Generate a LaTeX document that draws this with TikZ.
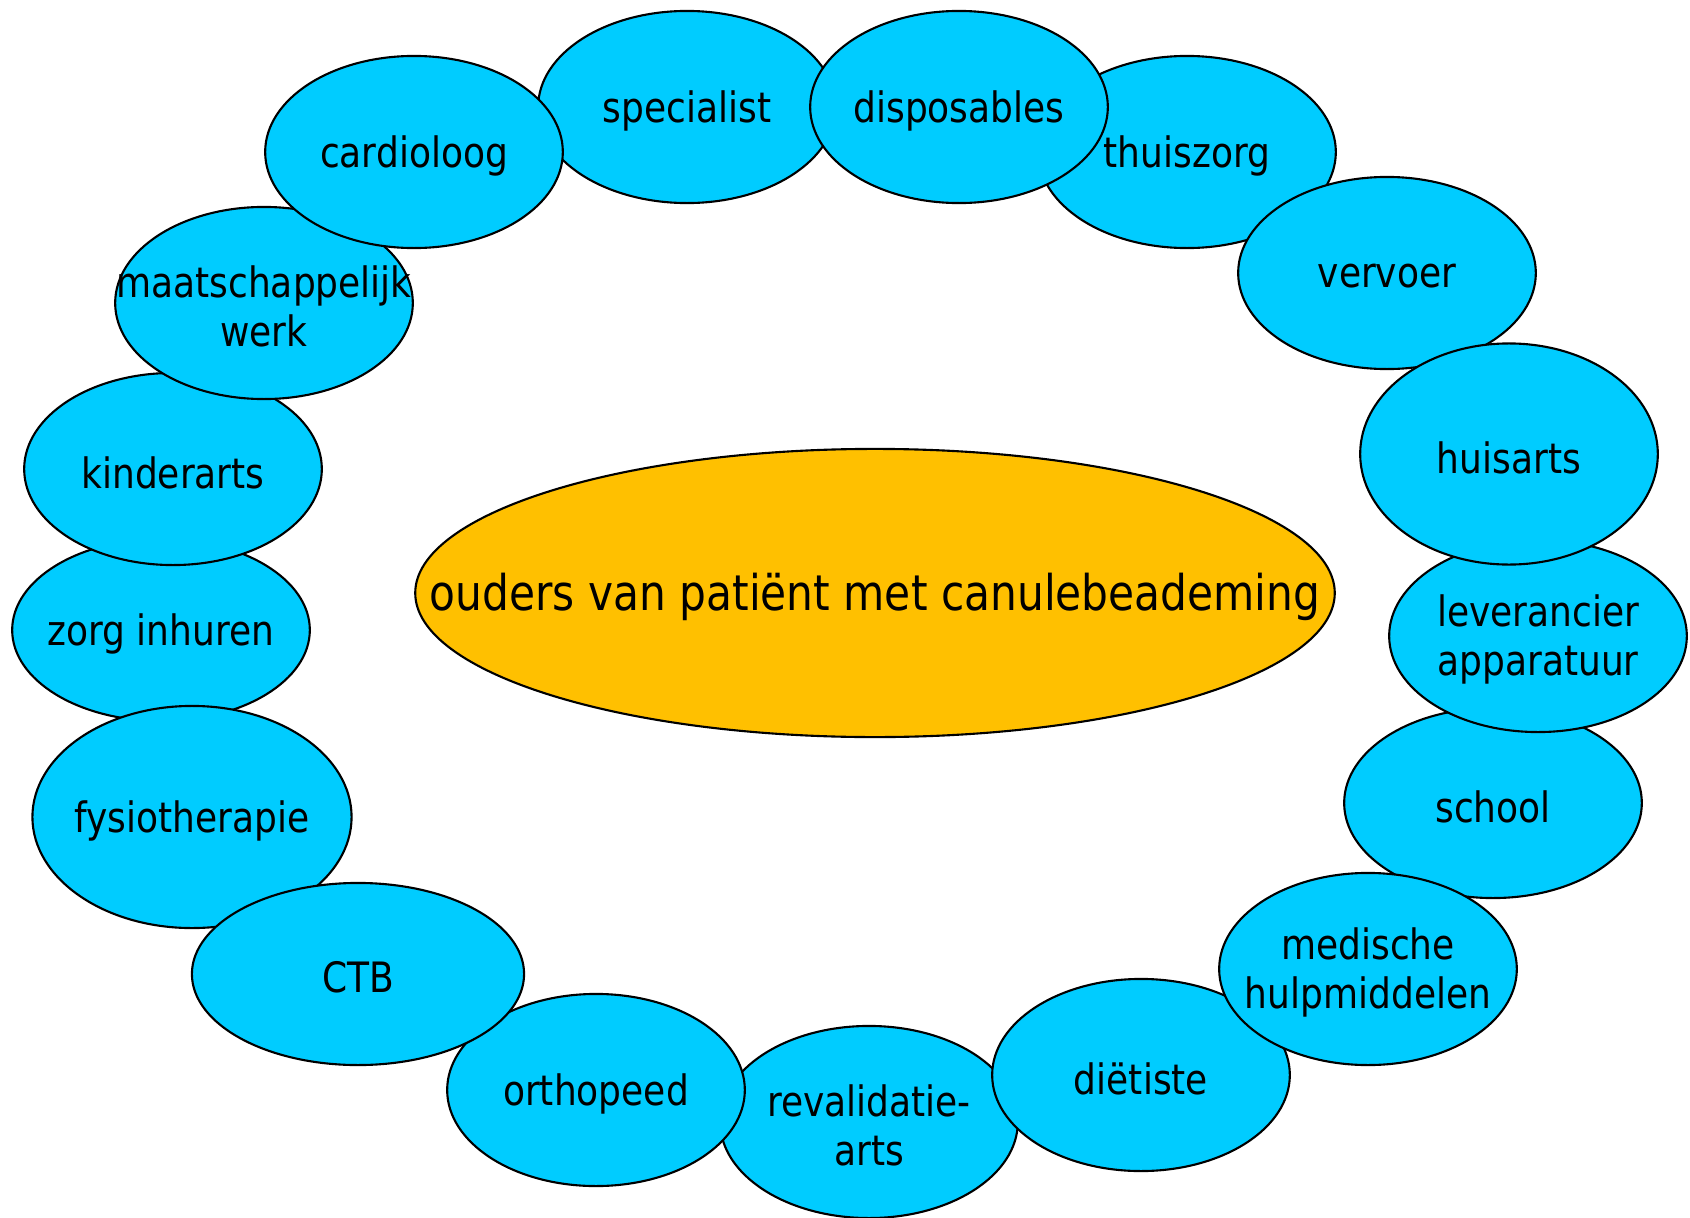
\documentclass[tikz,border=0pt]{standalone}
\usepackage{fontspec}
\setmainfont[FakeStretch=0.86]{DejaVu Sans}
\usepackage{tikz}
\usetikzlibrary{shapes.geometric}

\definecolor{bubblecol}{RGB}{0,204,255}
\definecolor{centercol}{RGB}{255,192,0}

\tikzset{
  bubble/.style={ellipse, draw=black, fill=bubblecol, inner sep=0pt,
    minimum width=2.975cm, minimum height=1.92cm},
  caption/.style={font=\fontsize{11.9}{14}\selectfont, align=center, inner sep=0pt, yshift=-1pt},
  middle/.style={ellipse, draw=black, fill=centercol, inner sep=0pt,
    minimum width=9.19cm, minimum height=2.88cm},
  bigcaption/.style={font=\fontsize{14}{16}\selectfont, inner sep=0pt, yshift=-1pt}
}

\begin{document}
\begin{tikzpicture}[x=0.01cm, y=-0.01cm, line width=0.6pt]
  \useasboundingbox (0,0) rectangle (1690,1218);

  % left side
  \node (zorg) [bubble, minimum height=1.82cm, label={[caption]center:zorg inhuren}] at (161,630) {};
  \node (kinder) [bubble, label={[caption]center:kinderarts}] at (173,469) {};
  \node (maatsch) [bubble, label={[caption]center:{maatschappelijk\\werk}}] at (264,303) {};

  % top
  \node (spec) [bubble, label={[caption]center:specialist}] at (687,107) {};
  \node (cardio) [bubble, label={[caption]center:cardioloog}] at (414,152) {};
  \node (thuis) [bubble, label={[caption]center:thuiszorg}] at (1187,152) {};
  \node (dispo) [bubble, label={[caption]center:disposables}] at (959,107) {};

  % right side
  \node (vervoer) [bubble, label={[caption]center:vervoer}] at (1387,273) {};
  \node (school) [bubble, minimum height=1.9cm, label={[caption]center:school}] at (1493,803) {};
  \node (lever) [bubble, label={[caption]center:{leverancier\\apparatuur}}] at (1538,636) {};
  \node (huis) [bubble, minimum height=2.21cm, label={[caption]center:huisarts}] at (1509,454) {};

  % bottom
  \node (reval) [bubble, label={[caption]center:{revalidatie-\\arts}}] at (869,1122) {};
  \node (diet) [bubble, label={[caption]center:diëtiste}] at (1141,1075) {};
  \node (medisch) [bubble, label={[caption]center:{medische\\hulpmiddelen}}] at (1368,969) {};
  \node (ortho) [bubble, label={[caption]center:orthopeed}] at (596,1090) {};
  \node (fysio) [bubble, minimum width=3.19cm, minimum height=2.22cm, label={[caption]center:fysiotherapie}] at (192,817) {};
  \node (ctb) [bubble, minimum width=3.32cm, minimum height=1.82cm, label={[caption]center:CTB}] at (358,974) {};

  % centre
  \node (ouders) [middle, label={[bigcaption]center:ouders van patiënt met canulebeademing}] at (875,593) {};
\end{tikzpicture}
\end{document}
